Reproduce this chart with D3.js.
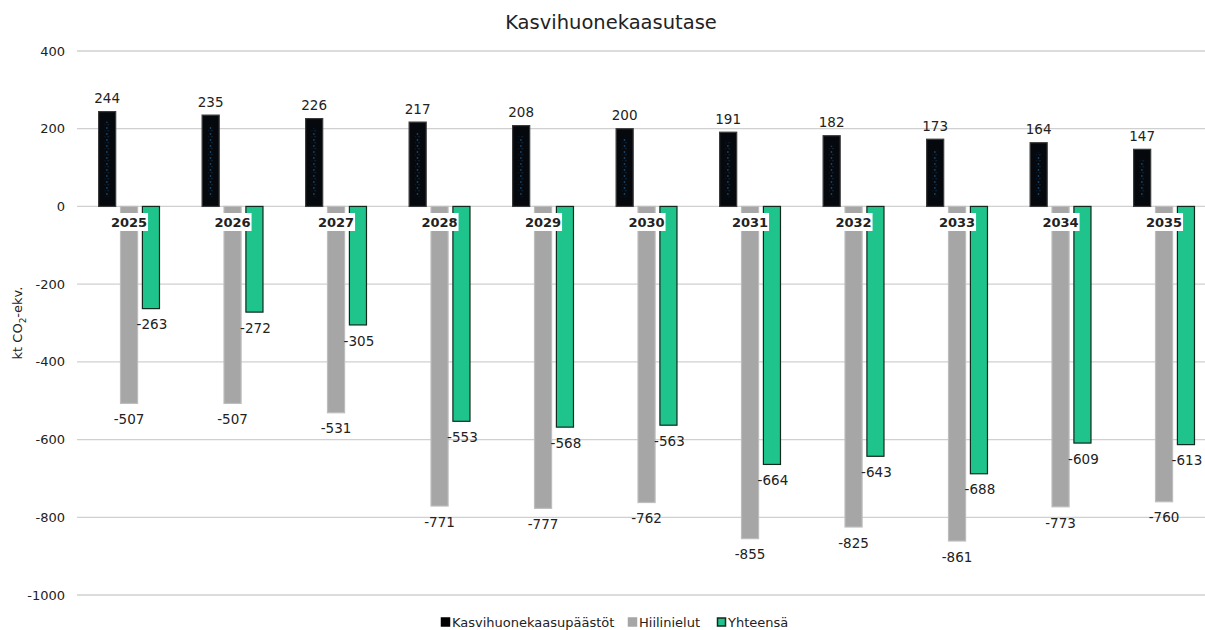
<!DOCTYPE html>
<html>
<head>
<meta charset="utf-8">
<script src="https://cdn.jsdelivr.net/npm/d3@7"></script>
<style>
  body { margin: 0; background: #fff; }
  text { font-family: "DejaVu Sans", Verdana, sans-serif; fill: #222; }
</style>
</head>
<body>
<div id="chart"></div>
<script>
const width = 1205;
const height = 630;

const years = ["2025", "2026", "2027", "2028", "2029", "2030", "2031", "2032", "2033", "2034", "2035"];
const emissions = [244, 235, 226, 217, 208, 200, 191, 182, 173, 164, 147];
const sinks = [-507, -507, -531, -771, -777, -762, -855, -825, -861, -773, -760];
const totals = [-263, -272, -305, -553, -568, -563, -664, -643, -688, -609, -613];
const seriesNames = ["Kasvihuonekaasupäästöt", "Hiilinielut", "Yhteensä"];
const yTicks = [400, 200, 0, -200, -400, -600, -800, -1000];

const svg = d3.select("#chart")
    .append("svg")
    .attr("width", width)
    .attr("height", height);

// speckled fill for the black bars (blue specks down the middle)
const defs = svg.append("defs");
const pat = defs.append("pattern")
    .attr("id", "speckle")
    .attr("patternUnits", "userSpaceOnUse")
    .attr("width", 4).attr("height", 6);
pat.append("rect").attr("width", 4).attr("height", 6).attr("fill", "#05080c");
pat.append("rect").attr("x", 1).attr("y", 1).attr("width", 1.2).attr("height", 2).attr("fill", "#1a4a72");
pat.append("rect").attr("x", 2.5).attr("y", 4).attr("width", 1).attr("height", 1.3).attr("fill", "#123a5a");

const x = d3.scaleBand()
    .domain(years)
    .range([77.3, 77.3 + 11 * 103.5]);

const xInner = d3.scaleBand()
    .domain(seriesNames)
    .range([16.5, 87])
    .padding(0.22);

const y = d3.scaleLinear()
    .domain([-1000, 400])
    .range([595, 51]);

// gridlines
svg.append("g")
    .selectAll("line")
    .data(yTicks)
    .join("line")
    .attr("x1", 77)
    .attr("x2", width)
    .attr("y1", d => y(d))
    .attr("y2", d => y(d))
    .attr("stroke", "#d0d0d0")
    .attr("stroke-width", 1.3);

// y tick labels
svg.append("g")
    .selectAll("text")
    .data(yTicks)
    .join("text")
    .attr("x", 65)
    .attr("y", d => y(d))
    .attr("dy", "0.35em")
    .attr("text-anchor", "end")
    .attr("font-size", "13px")
    .text(d => d);

// title
svg.append("text")
    .attr("x", 611)
    .attr("y", 29)
    .attr("text-anchor", "middle")
    .attr("font-size", "19.5px")
    .text("Kasvihuonekaasutase");

// y axis title
const yt = svg.append("text")
    .attr("transform", "translate(22," + y(-300) + ") rotate(-90)")
    .attr("text-anchor", "middle")
    .attr("font-size", "13px");
yt.append("tspan").text("kt CO");
yt.append("tspan").attr("font-size", "9px").attr("dy", 4).text("2");
yt.append("tspan").attr("dy", -4).text("-ekv.");

const rows = years.map((yr, i) => ({ year: yr, vals: [emissions[i], sinks[i], totals[i]] }));

const fills = ["#05080c", "#a6a6a6", "#1ec48c"];
const strokes = ["#3a3a3a", "#bdbdbd", "#12291d"];

const groups = svg.append("g")
    .selectAll("g")
    .data(rows)
    .join("g")
    .attr("transform", d => "translate(" + x(d.year) + ",0)");

groups.selectAll("rect.bar")
    .data(d => d.vals.map((v, k) => ({ v, k })))
    .join("rect")
    .attr("class", "bar")
    .attr("x", d => xInner(seriesNames[d.k]))
    .attr("width", xInner.bandwidth())
    .attr("y", d => y(Math.max(0, d.v)))
    .attr("height", d => Math.abs(y(d.v) - y(0)))
    .attr("fill", d => fills[d.k])
    .attr("stroke", d => strokes[d.k])
    .attr("stroke-width", 1.2);

// blue specks inside the black bars
groups.append("rect")
    .attr("x", xInner(seriesNames[0]) + 6)
    .attr("width", xInner.bandwidth() - 12)
    .attr("y", d => y(d.vals[0]) + 10)
    .attr("height", d => y(0) - y(d.vals[0]) - 20)
    .attr("fill", "url(#speckle)");

// value labels
groups.selectAll("text.val")
    .data(d => d.vals.map((v, k) => ({ v, k })))
    .join("text")
    .attr("class", "val")
    .attr("x", d => xInner(seriesNames[d.k]) + xInner.bandwidth() / 2 + (d.k === 2 ? 1 : 0))
    .attr("y", d => d.v > 0 ? y(d.v) - 13 : y(d.v) + 16)
    .attr("dy", "0.35em")
    .attr("text-anchor", "middle")
    .attr("font-size", "13.5px")
    .text(d => d.v);

// category labels with white boxes
const cat = groups.append("g")
    .attr("transform", "translate(" + (xInner(seriesNames[1]) + xInner.bandwidth() / 2) + "," + 222 + ")");
cat.append("rect")
    .attr("x", -19)
    .attr("y", -9)
    .attr("width", 38)
    .attr("height", 18)
    .attr("fill", "#fff");
cat.append("text")
    .attr("text-anchor", "middle")
    .attr("dy", "0.35em")
    .attr("font-size", "13px")
    .attr("font-weight", "bold")
    .text(d => d.year);

// legend
const legendItems = [
    { name: seriesNames[0], x: 441, fill: "#000", stroke: "#000" },
    { name: seriesNames[1], x: 628, fill: "#a6a6a6", stroke: "#a6a6a6" },
    { name: seriesNames[2], x: 717, fill: "#1ec48c", stroke: "#12291d" }
];
const legend = svg.append("g")
    .selectAll("g")
    .data(legendItems)
    .join("g")
    .attr("transform", d => "translate(" + d.x + ",622)");
legend.append("rect")
    .attr("x", 0.5)
    .attr("y", -4)
    .attr("width", 8)
    .attr("height", 8)
    .attr("fill", d => d.fill)
    .attr("stroke", d => d.stroke)
    .attr("stroke-width", 1.5);
legend.append("text")
    .attr("x", 11)
    .attr("dy", "0.35em")
    .attr("font-size", "13px")
    .text(d => d.name);
</script>
</body>
</html>
